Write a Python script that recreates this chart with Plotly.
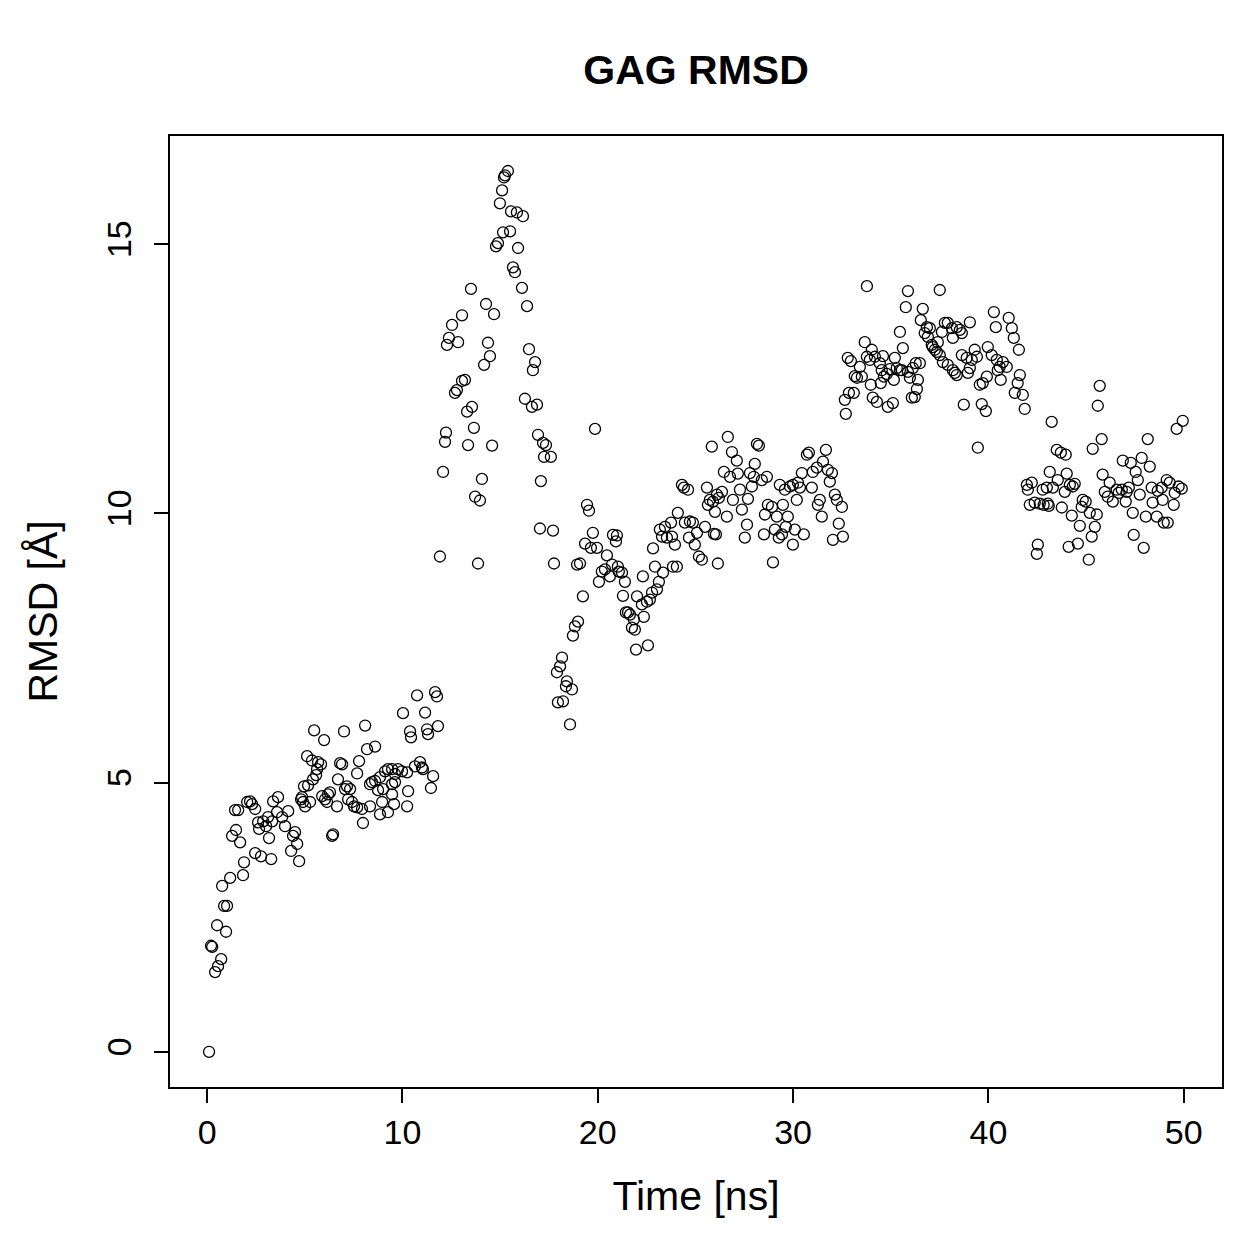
import plotly.graph_objects as go

# ---- data (time in ns, RMSD in Angstrom) ----
t_seg1 = [0.10,0.20,0.26,0.41,0.56,0.72,0.51,0.97,0.87,1.02,0.77,1.18,1.84,1.89,2.46,2.76,3.28,1.28,1.48,1.69,
          1.43,1.59,2.05,2.20,2.30,2.46,2.61,2.66,2.87,3.02,3.12,3.33,3.17,3.38,3.63,3.58,3.84,3.99,4.15,4.40,
          4.50,4.61,4.71,4.30,4.81,4.96,4.86,4.91]
r_seg1 = [0.00,1.97,1.95,1.48,1.59,1.72,2.35,2.23,2.71,2.71,3.08,3.23,3.28,3.52,3.69,3.63,3.58,4.01,4.12,3.89,
          4.49,4.49,4.64,4.65,4.60,4.51,4.26,4.14,4.28,4.19,4.36,4.28,3.97,4.65,4.73,4.45,4.36,4.19,4.47,4.01,
          4.08,3.86,3.54,3.73,4.69,4.93,4.73,4.64]

t_seg2 = [5.48,5.99,7.01,8.09,10.03,10.39,10.44,8.19,8.60,5.12,5.37,5.68,5.83,6.81,6.91,7.78,5.63,5.58,5.42,5.17,
          6.70,7.68,7.16,7.32,7.06,8.44,8.34,8.60,8.85,9.11,9.26,9.47,9.62,9.77,9.98,10.24,8.75,9.01,9.47,9.62,
          10.29,5.02,5.27,5.89,6.04,6.14,6.19,6.29,6.65,7.22,7.42,7.52,7.68,7.93,8.34,8.96,8.85,9.26,9.57,9.47,
          10.24,7.98,6.40,6.45,10.75,11.67,11.77,11.16,11.26,11.31,11.82,10.64,10.90,11.00,11.05,11.57,11.46]
r_seg2 = [5.97,5.79,5.95,6.06,6.29,5.95,5.84,5.62,5.67,5.49,5.41,5.38,5.34,5.36,5.34,5.40,5.25,5.14,5.06,4.95,
          5.06,5.17,4.93,4.88,4.88,5.01,4.97,5.03,5.10,5.21,5.25,5.25,5.16,5.25,5.21,5.19,4.86,4.88,4.97,5.01,
          4.84,4.56,4.64,4.75,4.69,4.64,4.78,4.82,4.56,4.69,4.64,4.56,4.54,4.51,4.56,4.64,4.41,4.45,4.60,4.78,
          4.56,4.25,4.01,4.04,6.62,6.68,6.60,6.30,5.99,5.90,6.05,5.30,5.38,5.28,5.25,5.12,4.90]

t_seg3 = [11.92,13.87,12.08,14.07,13.72,13.97,17.04,12.23,12.18,13.36,14.59,13.66,16.94,17.20,17.25,17.09,13.31,13.56,12.69,12.79,
          13.05,13.20,16.27,16.63,16.89,12.28,12.38,12.85,12.54,13.05,14.38,14.48,14.18,16.48,16.79,16.68,13.51,14.28,14.69,16.12,
          16.38,15.66,15.76,14.79,14.89,15.92,15.15,15.51,14.99,15.56,15.86,16.17,15.10,15.25,15.40,15.20]
r_seg3 = [9.20,9.07,10.77,10.64,10.31,10.24,9.72,11.50,11.33,11.27,11.26,11.59,11.46,11.31,11.05,10.60,11.89,11.98,12.24,12.29,
          12.46,12.48,12.13,11.98,12.02,13.13,13.26,13.18,13.50,13.68,13.17,12.92,12.76,13.05,12.81,12.66,14.17,13.89,13.70,14.19,
          13.85,14.57,14.48,14.96,15.02,14.93,15.22,15.24,15.76,15.61,15.59,15.52,16.00,16.28,16.36,16.24]

t_seg4 = [19.86,17.35,17.60,19.45,19.55,17.71,19.75,19.35,19.65,19.96,20.78,20.98,20.93,17.76,18.94,19.09,20.21,20.47,20.06,20.37,
          20.62,21.03,21.08,21.39,21.29,22.01,19.24,18.99,18.83,18.73,21.55,21.65,21.85,21.75,21.96,18.17,18.07,17.91,18.42,18.68,
          18.37,18.22,17.96,18.58]
r_seg4 = [11.57,11.27,11.05,10.16,10.05,9.68,9.64,9.44,9.36,9.36,9.60,9.59,9.48,9.07,9.05,9.07,8.92,9.22,8.73,8.96,
          8.83,9.01,8.92,8.73,8.47,8.46,8.46,7.99,7.90,7.73,8.16,8.12,8.03,7.88,7.47,7.32,7.16,7.05,6.88,6.73,
          6.79,6.51,6.49,6.08]

t_seg5 = [25.84,24.31,24.41,24.62,25.59,25.74,25.90,26.10,24.10,24.46,24.72,24.87,25.08,25.49,25.95,23.18,23.44,23.75,23.29,23.54,
          23.80,23.95,24.67,24.97,25.18,25.33,26.15,22.83,23.85,24.05,22.93,23.34,23.13,23.03,22.78,22.67,22.31,20.73,21.24,22.26,
          22.52,21.44,22.36,21.90,22.57]
r_seg5 = [11.24,10.53,10.48,10.44,10.48,10.25,10.22,10.35,10.01,9.83,9.85,9.83,9.64,9.75,9.62,9.70,9.75,9.83,9.57,9.55,
          9.57,9.42,9.55,9.42,9.20,9.14,9.07,9.35,9.01,9.01,9.01,8.90,8.73,8.59,8.53,8.40,8.83,9.05,8.90,8.31,
          8.36,8.16,8.08,7.84,7.55]

t_seg6 = [26.66,26.87,27.12,28.15,28.25,28.04,26.46,26.77,27.17,27.79,27.99,28.40,28.66,26.36,26.20,25.64,26.00,26.61,26.92,27.28,
          27.69,27.38,27.64,27.89,29.32,29.58,29.84,29.99,30.25,30.35,30.19,29.48,29.17,28.92,28.71,28.56,28.51,29.07,29.43,29.63,
          29.73,30.09,29.99,30.55,29.27,30.45,30.71,30.81,31.01,30.96,31.22,31.53,31.68,31.78,31.99,31.88,31.37,31.27,31.47,32.14,
          32.24,32.50,32.34,32.04,32.55,27.53,26.05,28.97]
r_seg6 = [11.42,11.14,10.98,11.29,11.26,10.92,10.77,10.68,10.74,10.75,10.68,10.62,10.68,10.40,10.29,10.16,10.03,9.94,10.25,10.44,
          10.27,10.07,9.79,10.50,10.53,10.44,10.50,10.53,10.57,10.48,10.25,10.16,9.94,10.12,10.16,9.98,9.61,9.70,9.61,9.75,
          9.94,9.70,9.42,9.61,9.55,10.75,11.09,11.13,10.77,10.48,10.85,10.96,11.18,10.81,10.75,10.59,10.25,10.16,9.94,10.35,
          10.25,10.12,9.81,9.51,9.57,9.55,9.61,9.09]

t_seg7 = [33.78,35.88,35.77,37.51,36.64,36.54,36.85,37.00,36.74,36.90,37.15,37.36,37.10,37.26,37.51,37.62,35.47,33.67,34.03,34.19,
          34.60,35.21,35.62,32.80,32.96,33.42,33.78,33.93,34.44,34.54,34.95,35.31,35.47,35.88,36.13,36.28,33.16,33.27,33.52,34.65,
          34.80,35.16,35.57,35.98,36.39,33.98,34.49,32.86,33.11,36.34,36.23,36.08,32.65,34.08,34.29,34.85,35.11,32.70]
r_seg7 = [14.22,14.13,13.83,14.15,13.80,13.59,13.46,13.44,13.35,13.28,13.09,13.00,13.13,13.04,12.94,13.37,13.37,13.18,13.04,12.91,
          12.92,12.89,13.07,12.89,12.83,12.72,12.91,12.85,12.79,12.66,12.68,12.70,12.66,12.63,12.70,12.79,12.55,12.52,12.54,12.54,
          12.59,12.48,12.66,12.52,12.48,12.39,12.42,12.24,12.24,12.31,12.16,12.15,12.11,12.15,12.07,11.98,12.05,11.85]

t_seg8 = [40.28,40.38,41.04,41.20,41.30,41.56,37.77,37.92,38.13,38.38,38.54,38.64,39.05,38.18,37.41,37.67,37.92,38.18,38.38,38.28,
          38.64,38.89,39.15,39.30,39.41,39.05,38.95,39.97,40.17,40.43,40.58,40.74,40.94,40.48,40.63,39.92,39.71,39.56,41.61,41.50,
          41.35,41.76,41.86,36.49,38.74,39.66,39.87,39.46]
r_seg8 = [13.74,13.46,13.63,13.44,13.26,13.04,13.54,13.54,13.44,13.46,13.41,13.35,13.55,13.26,13.18,12.81,12.76,12.66,12.57,12.61,
          12.94,12.89,12.85,13.04,12.91,12.70,12.61,13.09,12.94,12.85,12.72,12.81,12.72,12.66,12.48,12.54,12.42,12.39,12.57,12.42,
          12.24,12.20,11.94,12.79,12.02,12.03,11.90,11.22]

t_seg9 = [45.60,43.24,45.80,45.34,43.50,43.71,43.96,43.14,44.01,41.97,42.22,42.02,42.78,42.99,43.30,43.55,43.91,44.17,44.42,44.32,
          42.12,42.37,42.63,42.83,43.04,43.09,43.76,44.27,44.68,44.83,44.98,44.78,45.19,45.55,45.45,45.29,42.53,42.48,44.11,44.58,
          45.14,45.85,45.96]
r_seg9 = [12.00,11.70,11.38,11.20,11.18,11.13,11.09,10.77,10.74,10.53,10.57,10.44,10.44,10.48,10.48,10.62,10.40,10.53,10.55,10.50,
          10.16,10.20,10.18,10.16,10.18,10.14,10.11,9.96,9.77,10.25,10.22,10.12,10.01,9.98,9.75,9.57,9.42,9.25,9.38,9.44,
          9.14,10.72,10.40]

t_seg10 = [45.70,49.95,49.64,48.16,46.88,47.29,47.85,48.26,47.54,47.65,46.21,46.11,46.37,46.57,46.67,46.83,47.08,47.19,47.75,47.03,
           47.39,48.06,48.62,48.98,49.18,48.36,48.67,48.87,49.13,49.28,49.54,49.74,49.90,48.92,48.41,49.49,47.44,47.95]
r_seg10 = [12.37,11.72,11.57,11.38,10.98,10.94,11.03,10.87,10.77,10.62,10.57,10.31,10.22,10.44,10.38,10.44,10.40,10.48,10.35,10.22,
           10.01,9.94,9.94,9.83,9.83,10.48,10.42,10.48,10.62,10.57,10.38,10.50,10.46,10.25,10.20,10.16,9.60,9.36]

x_ticks = [0, 10, 20, 30, 40, 50]
y_ticks = [0, 5, 10, 15]

time_ns = (t_seg1 + t_seg2 + t_seg3 + t_seg4 + t_seg5 + t_seg6 + t_seg7 + t_seg8 + t_seg9 + t_seg10)
rmsd = (r_seg1 + r_seg2 + r_seg3 + r_seg4 + r_seg5 + r_seg6 + r_seg7 + r_seg8 + r_seg9 + r_seg10)

FONT = "Liberation Sans, Arial, Helvetica, sans-serif"

fig = go.Figure()
fig.add_trace(go.Scatter(
    x=time_ns, y=rmsd, mode="markers",
    marker=dict(symbol="circle-open", size=11, color="black", line=dict(width=1.3, color="black")),
    showlegend=False, hoverinfo="x+y",
))

fig.update_layout(
    width=1259, height=1259,
    margin=dict(l=170, r=37, t=136, b=172),
    paper_bgcolor="white", plot_bgcolor="white",
    font=dict(family=FONT, color="black", size=34),
    title=dict(text="GAG RMSD", x=(170 + 1222) / 2 / 1259, xanchor="center",
               y=1 - 70 / 1259, yanchor="middle", yref="container",
               font=dict(family=FONT, size=41, color="black", weight="bold")),
)
fig.update_xaxes(
    range=[-1.9, 51.96], tickvals=x_ticks, ticktext=[str(v) for v in x_ticks],
    showgrid=False, zeroline=False, showline=True, linecolor="black", linewidth=2, mirror=True,
    ticks="outside", ticklen=14, tickwidth=2, tickcolor="black",
    tickfont=dict(family=FONT, size=34, color="black"),
    title=dict(text="Time [ns]", font=dict(family=FONT, size=41, color="black"), standoff=32),
)
fig.update_yaxes(
    range=[-0.654, 17.01], tickvals=y_ticks, ticktext=[str(v) for v in y_ticks], tickangle=-90,
    ticklabelstandoff=9,
    showgrid=False, zeroline=False, showline=True, linecolor="black", linewidth=2, mirror=True,
    ticks="outside", ticklen=14, tickwidth=2, tickcolor="black",
    tickfont=dict(family=FONT, size=34, color="black"),
    title=dict(text="RMSD [Å]", font=dict(family=FONT, size=41, color="black"), standoff=30),
)

fig.write_html("out.html")
